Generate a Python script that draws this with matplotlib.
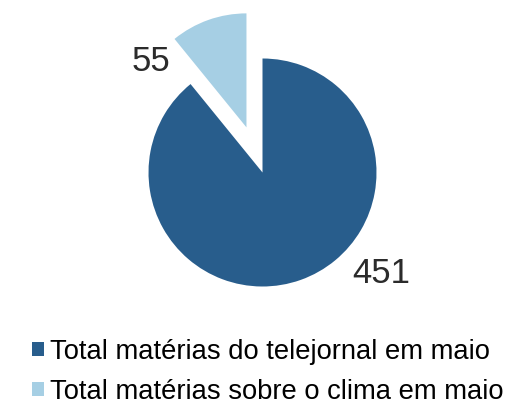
import numpy as np
import matplotlib.pyplot as plt

plt.rcParams['font.family'] = ['Liberation Sans', 'DejaVu Sans']

# dados
categorias = ['Total matérias do telejornal em maio', 'Total matérias sobre o clima em maio']
valores = [451, 55]
cores = ['#285d8c', '#a6cfe4']
destaque = [0, 0.42]  # fracao do raio

W, H = 505, 412
fig = plt.figure(figsize=(W / 100, H / 100), dpi=100)
ax = fig.add_axes([0, 0, 1, 1])

centro = (262.5, H - 172.5)
raio = 114
wedges, _ = ax.pie(valores, colors=cores, explode=[d * raio for d in destaque],
                   startangle=90, counterclock=False, center=centro,
                   radius=raio, frame=True)
ax.set_xlim(0, W)
ax.set_ylim(0, H)
ax.set_axis_off()

# rotulos dos valores, fora das fatias
desvio = [30, 36]
dist = [1.37, 1.02]
for w, v, d, k in zip(wedges, valores, desvio, dist):
    ang = np.deg2rad((w.theta1 + w.theta2) / 2 + d)
    cx, cy = w.center
    ax.text(cx + k * raio * np.cos(ang), cy + k * raio * np.sin(ang), str(v),
            fontsize=25, color='#2b2b2b', ha='center', va='center')

fig.legend(wedges, categorias, loc='upper left', bbox_to_anchor=(0.042, 0.204),
           frameon=False, fontsize=19.7, handlelength=0.44, handleheight=0.44,
           handletextpad=0.22, labelspacing=0.5, borderaxespad=0)

plt.savefig('out.png', dpi=100)
